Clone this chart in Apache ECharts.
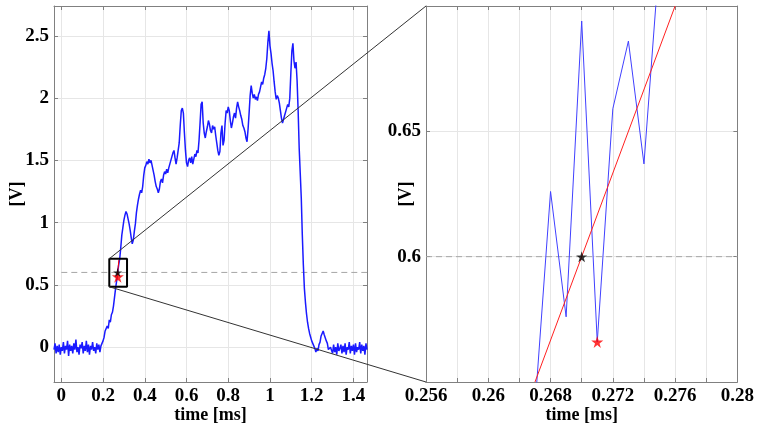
<!DOCTYPE html>
<html><head><meta charset="utf-8">
<script src="https://cdn.jsdelivr.net/npm/echarts@6/dist/echarts.min.js"></script>
<style>html,body{margin:0;padding:0;background:#fff}#c{width:757px;height:429px}</style>
</head><body><div id="c"></div>
<script>
// ---- data ----
const signalT0 = -0.035;   // ms, first sample
const signalDt = 0.005;    // ms, sample spacing
const signalV = [
 -0.02,0.03,-0.05,0.01,-0.04,0.02,-0.06,0.00,-0.03,0.04,
 -0.05,0.01,-0.02,0.05,-0.07,0.02,-0.03,0.01,-0.05,0.03,
 -0.02,0.06,-0.04,0.00,-0.06,0.02,-0.01,0.04,-0.05,0.01,
 -0.03,0.05,-0.04,0.02,-0.06,0.01,-0.02,0.04,-0.03,0.00,
 -0.05,0.03,-0.02,0.02,-0.04,0.01,
 0.02,0.05,0.08,0.13,0.12,0.17,0.15,0.22,0.20,0.26,0.28,0.33,0.40,0.47,0.53,
 0.60,0.66,0.71,0.80,0.90,0.96,1.02,1.06,1.09,1.07,
 1.03,0.99,0.94,0.88,0.83,0.86,0.93,0.99,1.08,1.14,
 1.19,1.23,1.26,1.24,1.29,1.38,1.44,1.46,1.49,1.47,
 1.51,1.48,1.50,1.46,1.42,1.38,1.33,
 1.29,1.27,1.24,1.27,1.33,1.35,1.32,1.38,1.41,1.39,
 1.43,1.40,1.44,1.47,1.50,1.53,1.56,1.58,1.52,1.47,
 1.52,1.58,1.64,1.78,1.90,1.92,1.88,1.72,1.58,1.48,
 1.45,1.50,1.52,1.48,1.53,1.47,1.51,1.55,1.53,1.58,
 1.56,1.66,1.80,1.95,1.97,1.80,1.72,1.68,1.73,1.77,
 1.82,1.79,1.74,1.72,1.78,1.75,1.77,1.70,1.64,1.58,
 1.54,1.57,1.72,1.78,1.62,1.66,1.80,1.90,1.88,1.93,
 1.90,1.82,1.76,1.80,1.85,1.88,1.84,1.92,1.97,1.93,
 1.90,1.86,1.83,1.78,1.76,1.73,1.68,1.65,1.75,1.88,
 2.02,2.10,2.04,2.00,2.03,1.99,2.01,1.98,2.03,2.05,
 2.09,2.13,2.11,2.16,2.19,2.24,2.32,2.45,2.54,2.42,
 2.36,2.28,2.22,2.13,2.05,1.99,2.02,2.00,1.96,1.90,
 1.84,1.80,1.83,1.86,1.89,1.92,1.95,1.93,2.00,2.20,
 2.38,2.44,2.30,2.24,2.29,2.14,1.90,1.60,1.40,
 1.20,0.90,0.66,0.47,0.36,0.27,0.20,0.15,0.11,0.08,
 0.05,0.03,0.01,-0.01,-0.04,-0.01,-0.03,0.02,0.04,0.09,
 0.08,0.13,0.10,0.11,0.05,0.03,-0.02,-0.03,0.00,
 0.01,-0.05,0.02,-0.04,0.00,-0.06,0.03,-0.03,-0.01,0.02,
 -0.05,0.01,-0.04,0.03,-0.06,0.00,-0.02,0.04,-0.05,0.01,
 -0.03,0.02,-0.06,0.03,-0.04,0.00,-0.02,0.04,-0.05,0.02,
 -0.03,0.01,-0.06,0.03,-0.02
];
const mainXRange = [-0.035, 1.465];
const mainYRange = [-0.28, 2.74];
const mainXTicks = [0, 0.2, 0.4, 0.6, 0.8, 1, 1.2, 1.4];
const mainYTicks = [0, 0.5, 1, 1.5, 2, 2.5];

const zoomXRange = [0.26, 0.28];
const zoomYRange = [0.55, 0.70];
const zoomXGrid = [0.26, 0.262, 0.264, 0.266, 0.268, 0.27, 0.272, 0.274, 0.276, 0.278, 0.28];
const zoomXLabelValues = [0.26, 0.264, 0.268, 0.272, 0.276, 0.28];
const zoomXLabels = ['0.256', '0.26', '0.268', '0.272', '0.276', '0.28'];
const zoomYTicks = [0.6, 0.65];

const zoomT = [0.267, 0.268, 0.269, 0.270, 0.271, 0.272, 0.273, 0.274, 0.275];
const zoomV = [0.540, 0.626, 0.576, 0.694, 0.566, 0.659, 0.686, 0.637, 0.720];
const fitT = [0.267, 0.276];
const fitV = [0.55, 0.70];
const threshold = 0.6;
const crossPoint = [0.270, 0.600];
const detectPoint = [0.271, 0.566];
const zoomBox = [0.23, 0.315, 0.485, 0.71]; // x0, x1, y0, y1

// ---- chart ----
const FONT = "'Liberation Serif','Times New Roman',serif";
const FRAME = '#808080';
const GRIDC = '#e6e6e6';
const STAR = 'path://M50,0 L61,35 L98,35 L68,57 L79,91 L50,70 L21,91 L32,57 L2,35 L39,35 Z';
const tickFont = {fontFamily: FONT, fontWeight: 'bold', fontSize: 19, color: '#000'};
const nameFont = {fontFamily: FONT, fontWeight: 'bold', fontSize: 18, color: '#000'};

function axisX(gi, range, tickVals, fmt, name, top) {
  return {
    type: 'value', gridIndex: gi, position: top ? 'top' : 'bottom',
    min: range[0], max: range[1],
    axisLine: {show: true, onZero: false, lineStyle: {color: FRAME, width: 1}},
    axisTick: {show: true, inside: true, length: 4, customValues: tickVals, lineStyle: {color: FRAME}},
    axisLabel: top ? {show: false} : Object.assign({show: true, margin: 5, customValues: tickVals, formatter: fmt}, tickFont),
    splitLine: {show: !top, lineStyle: {color: GRIDC, width: 1}},
    name: top ? '' : name, nameLocation: 'middle', nameGap: 24, nameMoveOverlap: false,
    nameTextStyle: nameFont
  };
}
function axisY(gi, range, tickVals, fmt, name, gap, right) {
  return {
    type: 'value', gridIndex: gi, position: right ? 'right' : 'left',
    min: range[0], max: range[1],
    axisLine: {show: true, onZero: false, lineStyle: {color: FRAME, width: 1}},
    axisTick: {show: true, inside: true, length: 4, customValues: tickVals, lineStyle: {color: FRAME}},
    axisLabel: right ? {show: false} : Object.assign({show: true, margin: 5, customValues: tickVals, formatter: fmt}, tickFont),
    splitLine: {show: !right, lineStyle: {color: GRIDC, width: 1}},
    name: right ? '' : name, nameLocation: 'middle', nameGap: gap, nameMoveOverlap: false,
    nameTextStyle: nameFont
  };
}
const plainFmt = v => String(+v.toFixed(4));
const zoomXFmt = v => {
  const i = zoomXLabelValues.findIndex(u => Math.abs(u - v) < 1e-9);
  return i >= 0 ? zoomXLabels[i] : '';
};

const signalData = signalV.map((v, i) => [+(signalT0 + i * signalDt).toFixed(4), v]);
const zoomData = zoomT.map((t, i) => [t, zoomV[i]]);
const fitData = fitT.map((t, i) => [t, fitV[i]]);
const boxData = [[zoomBox[0], zoomBox[2]], [zoomBox[1], zoomBox[2]], [zoomBox[1], zoomBox[3]], [zoomBox[0], zoomBox[3]], [zoomBox[0], zoomBox[2]]];

const chart = echarts.init(document.getElementById('c'), null, {renderer: 'canvas'});
chart.setOption({
  animation: false,
  backgroundColor: '#fff',
  grid: [
    {left: 54, top: 6, right: 390, bottom: 46},
    {left: 426, top: 6, right: 18, bottom: 46}
  ],
  xAxis: [
    axisX(0, mainXRange, mainXTicks, plainFmt, 'time [ms]', false),
    axisX(0, mainXRange, mainXTicks, plainFmt, '', true),
    axisX(1, zoomXRange, zoomXGrid, zoomXFmt, 'time [ms]', false),
    axisX(1, zoomXRange, zoomXGrid, zoomXFmt, '', true)
  ],
  yAxis: [
    axisY(0, mainYRange, mainYTicks, plainFmt, '[V]', 28, false),
    axisY(0, mainYRange, mainYTicks, plainFmt, '', 0, true),
    axisY(1, zoomYRange, zoomYTicks, plainFmt, '[V]', 11, false),
    axisY(1, zoomYRange, zoomYTicks, plainFmt, '', 0, true)
  ],
  series: [
    {type: 'line', xAxisIndex: 0, yAxisIndex: 0, data: [[0, threshold], [mainXRange[1], threshold]],
     showSymbol: false, lineStyle: {color: '#a6a6a6', width: 1, type: [6, 4]}, z: 1, silent: true},
    {type: 'line', xAxisIndex: 0, yAxisIndex: 0, data: signalData, showSymbol: false,
     lineStyle: {color: '#1a1aff', width: 1.5}, z: 2},
    {type: 'line', xAxisIndex: 0, yAxisIndex: 0, data: fitData, showSymbol: false,
     lineStyle: {color: '#ff0000', width: 1}, z: 3},
    {type: 'line', xAxisIndex: 0, yAxisIndex: 0, data: boxData, showSymbol: false, clip: false,
     lineStyle: {color: '#000', width: 2}, z: 4},
    {type: 'scatter', xAxisIndex: 0, yAxisIndex: 0, data: [detectPoint], symbol: STAR, symbolSize: 12,
     itemStyle: {color: '#ff0000'}, z: 5},
    {type: 'scatter', xAxisIndex: 0, yAxisIndex: 0, data: [crossPoint], symbol: STAR, symbolSize: 9,
     itemStyle: {color: '#000'}, z: 6},

    {type: 'line', xAxisIndex: 2, yAxisIndex: 2, data: [[zoomXRange[0], threshold], [zoomXRange[1], threshold]],
     showSymbol: false, lineStyle: {color: '#a6a6a6', width: 1, type: [6, 4]}, z: 1},
    {type: 'line', xAxisIndex: 2, yAxisIndex: 2, data: zoomData, showSymbol: false,
     lineStyle: {color: '#4040ff', width: 1}, z: 2},
    {type: 'line', xAxisIndex: 2, yAxisIndex: 2, data: fitData, showSymbol: false,
     lineStyle: {color: '#ff2020', width: 1}, z: 3},
    {type: 'scatter', xAxisIndex: 2, yAxisIndex: 2, data: [crossPoint], symbol: STAR, symbolSize: 11,
     itemStyle: {color: '#000'}, z: 5},
    {type: 'scatter', xAxisIndex: 2, yAxisIndex: 2, data: [detectPoint], symbol: STAR, symbolSize: 12,
     itemStyle: {color: '#ff0000'}, z: 5}
  ]
});

// connector lines from the zoom box to the zoomed panel (positions from the axes)
const tl = chart.convertToPixel({xAxisIndex: 0, yAxisIndex: 0}, [zoomBox[0], zoomBox[3]]);
const bl = chart.convertToPixel({xAxisIndex: 0, yAxisIndex: 0}, [zoomBox[0], zoomBox[2]]);
const rtl = chart.convertToPixel({xAxisIndex: 2, yAxisIndex: 2}, [zoomXRange[0], zoomYRange[1]]);
const rbl = chart.convertToPixel({xAxisIndex: 2, yAxisIndex: 2}, [zoomXRange[0], zoomYRange[0]]);
chart.setOption({
  graphic: [
    {type: 'line', shape: {x1: tl[0], y1: tl[1], x2: rtl[0], y2: rtl[1]}, style: {stroke: '#333', lineWidth: 1}, z: 50, silent: true},
    {type: 'line', shape: {x1: bl[0], y1: bl[1], x2: rbl[0], y2: rbl[1]}, style: {stroke: '#333', lineWidth: 1}, z: 50, silent: true}
  ]
});
</script></body></html>
